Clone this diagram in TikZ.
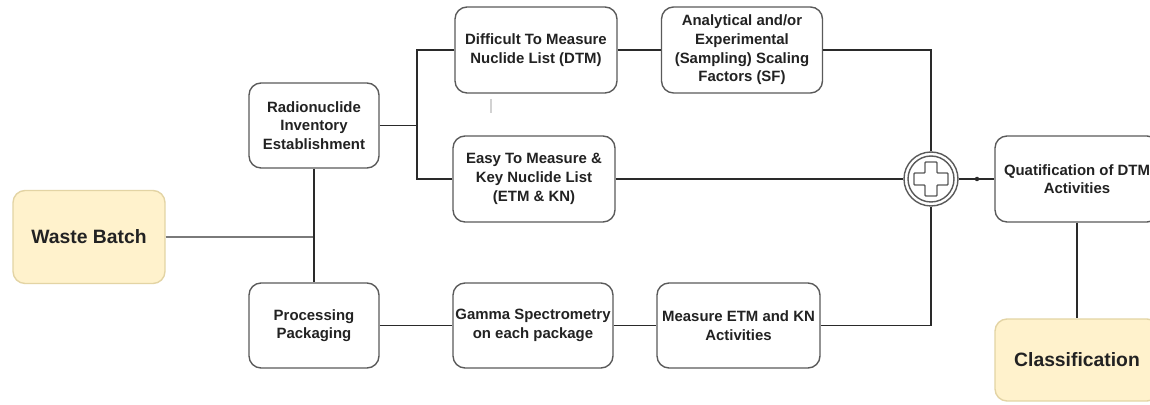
\documentclass[tikz,border=0pt]{standalone}
\usepackage{fontspec}
\setmainfont{Liberation Sans}
\definecolor{boxline}{HTML}{5A5A5A}
\definecolor{linkc}{HTML}{2A2A2A}
\definecolor{feedc}{HTML}{7A7A7A}
\definecolor{textc}{HTML}{222222}
\definecolor{termfill}{HTML}{FFF2CC}
\definecolor{termline}{HTML}{E3D4A4}
\begin{document}
\begin{tikzpicture}[x=0.02cm,y=-0.02cm,
  box/.style={draw=boxline, line width=0.8pt, rounded corners=0.24cm, fill=white,
    align=center, inner sep=1pt, text=textc,
    font=\fontsize{8.5}{10.6}\selectfont\bfseries},
  term/.style={box, fill=termfill, draw=termline,
    font=\fontsize{11}{13}\selectfont\bfseries},
  link/.style={draw=linkc, line width=1.1pt},
  feed/.style={draw=feedc, line width=0.8pt},
]
\useasboundingbox (0,0) rectangle (1150,405);
\clip (0,0) rectangle (1150,405);
\fill[white] (0,0) rectangle (1150,405);

% terminal boxes
\node[term, minimum width=3.04cm, minimum height=1.86cm] (waste) at (89,237) {Waste Batch};
\node[term, minimum width=3.28cm, minimum height=1.64cm] (class) at (1077,360) {Classification};

% process boxes
\node[box, minimum width=2.6cm, minimum height=1.7cm] (radio) at (314,125.5) {Radionuclide\\Inventory\\Establishment};
\node[box, minimum width=3.24cm, minimum height=1.72cm] (dtm) at (536,50) {Difficult To Measure\\Nuclide List (DTM)};
\node[box, minimum width=3.22cm, minimum height=1.72cm] (sf) at (742,50) {Analytical and/or\\Experimental\\(Sampling) Scaling\\Factors (SF)};
\node[box, minimum width=3.24cm, minimum height=1.72cm] (etm) at (534,179) {Easy To Measure \&\\Key Nuclide List\\(ETM \& KN)};
\node[box, minimum width=3.28cm, minimum height=1.72cm] (quat) at (1077,179) {Quatification of DTM\\Activities};
\node[box, minimum width=2.6cm, minimum height=1.7cm] (proc) at (314,325.5) {Processing\\Packaging};
\node[box, minimum width=3.2cm, minimum height=1.7cm] (gamma) at (533,325.5) {Gamma Spectrometry\\on each package};
\node[box, minimum width=3.26cm, minimum height=1.7cm] (meas) at (738.5,325.5) {Measure ETM and KN\\Activities};

% summing junction
\node[circle, draw=boxline, line width=0.8pt, fill=white, minimum size=1.08cm, inner sep=0pt] (plus) at (931,179) {};
\draw[boxline, line width=0.8pt] (plus.center) circle (0.46cm);
\begin{scope}[shift={(plus.center)}]
  \draw[boxline, line width=0.8pt, rounded corners=0.5pt]
    (-6,-17) -- (6,-17) -- (6,-6) -- (17,-6) -- (17,6) -- (6,6) -- (6,17)
    -- (-6,17) -- (-6,6) -- (-17,6) -- (-17,-6) -- (-6,-6) -- cycle;
\end{scope}

% junction points
\coordinate (jr) at (417,125.5);
\coordinate (jw) at (314,237);
\coordinate (qdot) at (977,179);

% connectors
\draw[feed] (waste.east) -- (jw);
\draw[link] (radio.south) -- (proc.north);
\draw[link] (radio.east) -- (jr);
\draw[link] (dtm.west) -| (jr);
\draw[link] (etm.west) -| (jr);
\draw[link] (dtm.east) -- (sf.west);
\draw[link] (sf.east) -| (plus.north);
\draw[link] (etm.east) -- (plus.west);
\draw[link] (plus.east) -- (quat.west);
\fill[linkc] (qdot) circle (0.045cm);
\draw[link] (quat.south) -- (class.north);
\draw[link] (proc.east) -- (gamma.west);
\draw[link] (gamma.east) -- (meas.west);
\draw[link] (meas.east) -| (plus.south);

% faint tick below the DTM box
\coordinate (tickA) at (491,99);
\coordinate (tickB) at (491,113);
\draw[gray!35, line width=0.8pt] (tickA) -- (tickB);
\end{tikzpicture}
\end{document}
